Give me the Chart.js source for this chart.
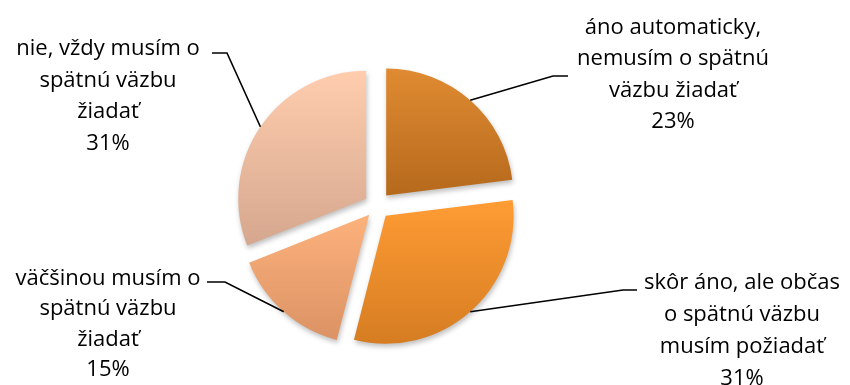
<!DOCTYPE html>
<html>
<head>
<meta charset="utf-8">
<script src="https://cdn.jsdelivr.net/npm/chart.js@4/dist/chart.umd.min.js"></script>
<style>
  html, body { margin: 0; padding: 0; background: #fff; }
  #wrap { width: 850px; height: 385px; }
</style>
</head>
<body>
<div id="wrap"><canvas id="pie-chart" width="850" height="385"></canvas></div>
<script>
// data
const categories = [
    ['áno automaticky,', 'nemusím o spätnú', 'väzbu žiadať'],
    ['skôr áno, ale občas', 'o spätnú väzbu', 'musím požiadať'],
    ['väčšinou musím o', 'spätnú väzbu', 'žiadať'],
    ['nie, vždy musím o', 'spätnú väzbu', 'žiadať']
];
const values = [23, 31, 15, 31];
const percentLabels = ['23%', '31%', '15%', '31%'];

// colours (top / bottom of each slice gradient)
const topColors = ['#E08B32', '#FF9C34', '#FDB27C', '#FFCDAE'];
const bottomColors = ['#B6691C', '#D67D22', '#DC9365', '#D5A78E'];

// label layout: text centre x, first baseline y, elbow, end of leader
const textPos = [[673, 34], [742, 289], [108, 285], [108, 55]];
const elbowPos = [[553, 76], [623, 290], [225, 282], [227, 53]];
const endPos = [[568, 76], [637, 290], [207, 282], [212, 53]];
const lineGaps = [31.3, 32, 30.4, 31.5];
const explode = 14; // px each slice is pulled out

// chart.js moves an arc by offset/4 * (1 + fix), so work back from the wanted shift
const total = values.reduce((a, b) => a + b, 0);
function shiftFactor(v) {
    const c = v / total * Math.PI * 2;
    return (1 + (1 - Math.sin(Math.min(Math.PI, c)))) / 4;
}
const sliceOffsets = values.map(v => explode / shiftFactor(v));

function sliceGradient(context) {
    const chart = context.chart;
    const i = context.dataIndex;
    const el = context.element;
    if (!el || el.outerRadius === undefined || !chart.chartArea) return topColors[i];
    // gradient is in the arc's own (untranslated) space
    let minY = el.y, maxY = el.y;
    for (let k = 0; k <= 40; k++) {
        const a = el.startAngle + (el.endAngle - el.startAngle) * k / 40;
        const y = el.y + Math.sin(a) * el.outerRadius;
        minY = Math.min(minY, y);
        maxY = Math.max(maxY, y);
    }
    const g = chart.ctx.createLinearGradient(0, minY, 0, maxY);
    g.addColorStop(0, topColors[i]);
    g.addColorStop(1, bottomColors[i]);
    return g;
}

const shadowPlugin = {
    id: 'shadow',
    beforeDatasetsDraw(chart) {
        const ctx = chart.ctx;
        ctx.save();
        ctx.shadowColor = 'rgba(0,0,0,0.25)';
        ctx.shadowBlur = 5;
        ctx.shadowOffsetX = 1;
        ctx.shadowOffsetY = 3;
    },
    afterDatasetsDraw(chart) {
        chart.ctx.restore();
    }
};

const labelPlugin = {
    id: 'leaderLabels',
    afterDraw(chart) {
        const ctx = chart.ctx;
        const arcs = chart.getDatasetMeta(0).data;
        ctx.save();
        arcs.forEach((arc, i) => {
            const mid = (arc.startAngle + arc.endAngle) / 2;
            const r = arc.outerRadius + explode;
            const sx = arc.x + Math.cos(mid) * r;
            const sy = arc.y + Math.sin(mid) * r;
            ctx.strokeStyle = '#000';
            ctx.lineWidth = 1.6;
            ctx.beginPath();
            ctx.moveTo(sx, sy);
            ctx.lineTo(elbowPos[i][0], elbowPos[i][1]);
            ctx.lineTo(endPos[i][0], endPos[i][1]);
            ctx.stroke();

            ctx.fillStyle = '#000';
            ctx.font = '22px "Open Sans"';
            ctx.textAlign = 'center';
            ctx.textBaseline = 'alphabetic';
            const lines = categories[i].concat([percentLabels[i]]);
            lines.forEach((t, k) => {
                ctx.fillText(t, textPos[i][0], textPos[i][1] + k * lineGaps[i]);
            });
        });
        ctx.restore();
    }
};

const ctx = document.getElementById('pie-chart').getContext('2d');
const chart = new Chart(ctx, {
    type: 'pie',
    data: {
        labels: categories.map(c => c.join(' ')),
        datasets: [{
            data: values,
            backgroundColor: sliceGradient,
            borderWidth: 0,
            hoverBorderWidth: 0,
            offset: sliceOffsets,
            hoverOffset: 0
        }]
    },
    options: {
        responsive: false,
        animation: false,
        radius: 127,
        layout: { padding: { left: 200, right: 296, top: 72, bottom: 45 } },
        plugins: {
            legend: { display: false },
            tooltip: { enabled: false }
        },
        events: []
    },
    plugins: [shadowPlugin, labelPlugin]
});
chart.update();
</script>
</body>
</html>
